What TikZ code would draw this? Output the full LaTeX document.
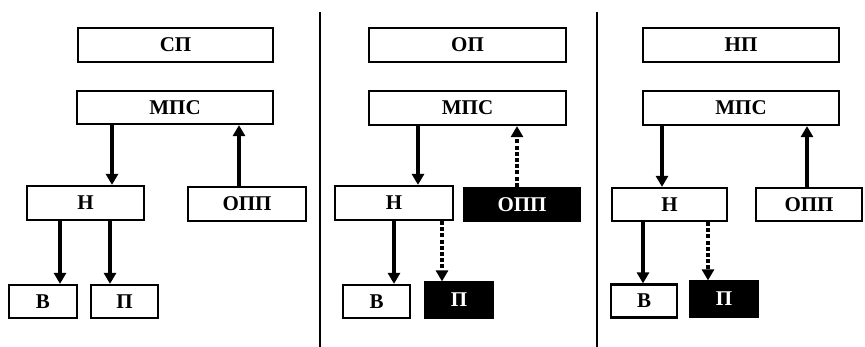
\documentclass[tikz,border=0pt]{standalone}
\usepackage{fontspec}
\setmainfont{Liberation Serif}
\usetikzlibrary{arrows.meta}
\begin{document}
\begin{tikzpicture}[x=1pt,y=-1pt,
  box/.style={draw=black,line width=2.2pt,fill=white,inner sep=0pt,font=\fontsize{21}{21}\selectfont\bfseries},
  blk/.style={draw=black,line width=2.2pt,fill=black,text=white,inner sep=0pt,font=\fontsize{21}{21}\selectfont\bfseries},
  arr/.style={line width=3.8pt,-{Triangle[length=11pt,width=12pt]}},
  darr/.style={arr,dash pattern=on 4pt off 2.2pt},
  divider/.style={line width=2.4pt}]
\useasboundingbox (0,0) rectangle (865,347);
% Panel 1
\node[box,minimum width=195pt,minimum height=34pt] (sp1) at (175.5,45) {СП};
\node[box,minimum width=196pt,minimum height=33pt] (mps1) at (175,107.5) {МПС};
\node[box,minimum width=117pt,minimum height=34pt] (n1) at (85.5,203) {Н};
\node[box,minimum width=118pt,minimum height=34pt] (opp1) at (247,204) {ОПП};
\node[box,minimum width=68pt,minimum height=33pt] (v1) at (43,301.5) {В};
\node[box,minimum width=67pt,minimum height=33pt] (p1) at (124.5,301.5) {П};
\draw[arr] (mps1.south -| 112,0) -- (n1.north -| 112,0);
\draw[arr] (opp1.north -| 239,0) -- (mps1.south -| 239,0);
\draw[arr] (n1.south -| 60,0) -- (v1.north -| 60,0);
\draw[arr] (n1.south -| 110,0) -- (p1.north -| 110,0);
% dividers
\coordinate (d1t) at (320,12);
\coordinate (d1b) at (320,347);
\coordinate (d2t) at (597,12);
\coordinate (d2b) at (597,347);
\draw[divider] (d1t) -- (d1b);
\draw[divider] (d2t) -- (d2b);
% Panel 2
\node[box,minimum width=197pt,minimum height=34pt] (op2) at (467.5,45) {ОП};
\node[box,minimum width=197pt,minimum height=34pt] (mps2) at (467.5,108) {МПС};
\node[box,minimum width=118pt,minimum height=34pt] (n2) at (394,203) {Н};
\node[blk,minimum width=115pt,minimum height=33pt] (opp2) at (522,204.5) {ОПП};
\node[box,minimum width=67pt,minimum height=33pt] (v2) at (376.5,301.5) {В};
\node[blk,minimum width=68pt,minimum height=35pt] (p2) at (459,300) {П};
\draw[arr] (mps2.south -| 418,0) -- (n2.north -| 418,0);
\draw[darr] (opp2.north -| 517,0) -- (mps2.south -| 517,0);
\draw[arr] (n2.south -| 394,0) -- (v2.north -| 394,0);
\draw[darr] (n2.south -| 442,0) -- (p2.north -| 442,0);
% Panel 3
\node[box,minimum width=196pt,minimum height=34pt] (np3) at (741,45) {НП};
\node[box,minimum width=196pt,minimum height=34pt] (mps3) at (741,108) {МПС};
\node[box,minimum width=115pt,minimum height=33pt] (n3) at (669.5,204.5) {Н};
\node[box,minimum width=106pt,minimum height=33pt] (opp3) at (809,204.5) {ОПП};
\node[box,minimum width=66pt,minimum height=33pt] (v3) at (644,301) {В};
\node[blk,minimum width=68pt,minimum height=35pt] (p3) at (724,299) {П};
\draw[arr] (mps3.south -| 662,0) -- (n3.north -| 662,0);
\draw[arr] (opp3.north -| 807,0) -- (mps3.south -| 807,0);
\draw[arr] (n3.south -| 643,0) -- (v3.north -| 643,0);
\draw[darr] (n3.south -| 708,0) -- (p3.north -| 708,0);
\end{tikzpicture}
\end{document}
